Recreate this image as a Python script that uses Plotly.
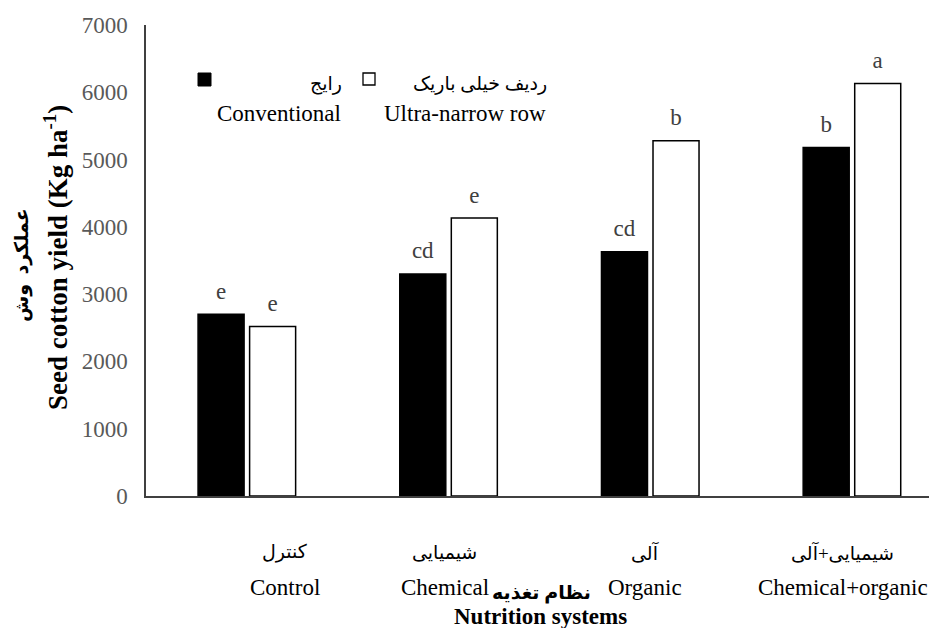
import plotly.graph_objects as go

categories_en = ["Control", "Chemical", "Organic", "Chemical+organic"]
categories_fa = ["کنترل", "شیمیایی", "آلی", "شیمیایی+آلی"]
conventional = [2700, 3300, 3630, 5180]
ultra_narrow = [2520, 4130, 5280, 6130]
letters_conv = ["e", "cd", "cd", "b"]
letters_unr = ["e", "e", "b", "a"]
y_ticks = [0, 1000, 2000, 3000, 4000, 5000, 6000, 7000]

SERIF = "Liberation Serif, Times New Roman, DejaVu Serif"
FA = "Liberation Serif, DejaVu Sans"
x_idx = list(range(len(categories_en)))

fig = go.Figure()
for vals, letters, fill, grp in [(conventional, letters_conv, "black", "conv"),
                                 (ultra_narrow, letters_unr, "white", "unr")]:
    fig.add_trace(go.Bar(
        x=x_idx, y=vals, offsetgroup=grp,
        marker=dict(color=fill, line=dict(color="black", width=1.5)),
    ))
    fig.add_trace(go.Scatter(
        x=x_idx, y=vals, offsetgroup=grp, mode="markers+text",
        marker=dict(size=14, opacity=0), text=letters, textposition="top center",
        cliponaxis=False, textfont=dict(family=SERIF, size=23, color="#404040"),
    ))

W, H = 929, 628
L, R, T, B = 146, 0, 25, 132
fig.update_layout(
    width=W, height=H,
    margin=dict(l=L, r=R, t=T, b=B),
    plot_bgcolor="white", paper_bgcolor="white",
    barmode="group", scattermode="group", bargap=0.489, bargroupgap=0.107,
    scattergap=0.489,
    showlegend=False,
    font=dict(family=SERIF, size=23, color="black"),
    xaxis=dict(range=[-0.5, 3.382], showticklabels=False, ticks="",
               showgrid=False, zeroline=False, showline=True,
               linecolor="#404040", linewidth=2),
    yaxis=dict(range=[0, 7000], tickvals=y_ticks, ticks="", showgrid=False,
               zeroline=False, showline=True, linecolor="#404040", linewidth=1.5,
               tickfont=dict(family=SERIF, size=23, color="#595959"),
               ticklabelstandoff=12),
)

pw, ph = W - L - R, H - T - B


def px(x, y):
    return (x - L) / pw, (H - y - B) / ph


def ann(x, y, text, size=23, angle=0, family=SERIF):
    fx, fy = px(x, y)
    fig.add_annotation(x=fx, y=fy, xref="paper", yref="paper", text=text,
                       xanchor="center", yanchor="middle", textangle=angle,
                       showarrow=False, font=dict(family=family, size=size, color="black"))


# Category labels (Persian above English)
label_shift = [38, -4, -5, -9]
for i, (en, fa) in enumerate(zip(categories_en, categories_fa)):
    fig.add_annotation(x=i, y=0, xref="x", yref="y", yshift=-56, xshift=label_shift[i],
                       xanchor="center", yanchor="middle",
                       text=fa, showarrow=False,
                       font=dict(family=FA, size=19, color="black"))
    fig.add_annotation(x=i, y=0, xref="x", yref="y", yshift=-91, xshift=label_shift[i],
                       xanchor="center", yanchor="middle",
                       text=en, showarrow=False,
                       font=dict(family=SERIF, size=23, color="black"))

# Axis titles
ann(541, 593, "<b>نظام تغذیه</b>", size=19, family=FA)
ann(540, 616, "<b>Nutrition systems</b>", size=23)
ann(22, 265, "<b>عملکرد  وش</b>", size=19, angle=-90, family=FA)
ann(56, 258, "<b>Seed cotton yield (Kg ha<sup>-1</sup>)</b>", size=27, angle=-90)

# Legend
for (x0, y0, x1, y1, fill, lw) in [(198, 73, 211, 86, "black", 1), (363, 73, 375, 85, "white", 1.3)]:
    a0, b0 = px(x0, y1)
    a1, b1 = px(x1, y0)
    fig.add_shape(type="rect", xref="paper", yref="paper", x0=a0, x1=a1, y0=b0, y1=b1,
                  fillcolor=fill, line=dict(color="black", width=lw))
ann(326, 84, "رایج", size=19, family=FA)
ann(279, 114, "Conventional", size=23)
ann(480, 84, "ردیف خیلی باریک", size=19, family=FA)
ann(465, 114, "Ultra-narrow row", size=23)

fig.write_html("out.html", config={"displayModeBar": False},
               post_script="document.body.style.margin='0';")
